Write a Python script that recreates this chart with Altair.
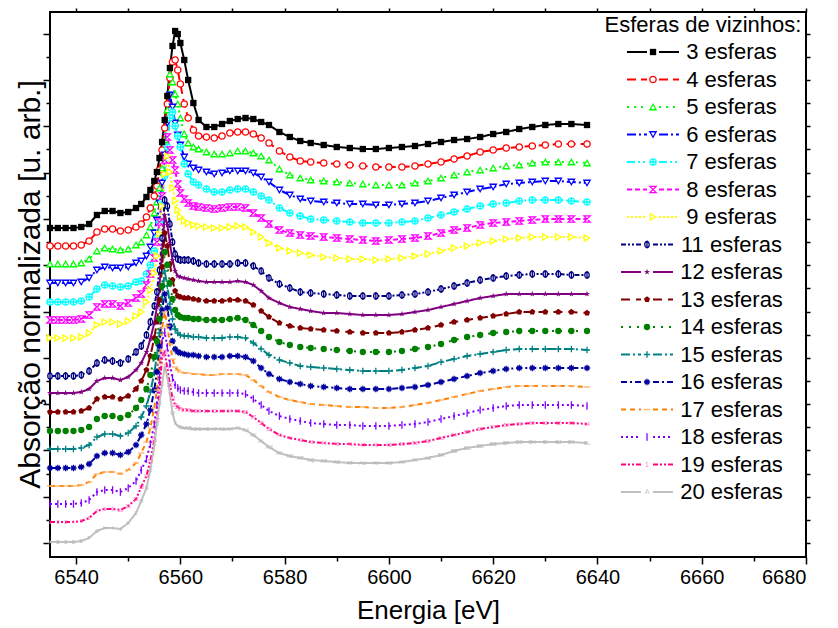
import altair as alt
import pandas as pd

# ---------------- data ----------------
energy = [6535, 6536.5, 6538, 6539.5, 6541, 6542.5, 6544, 6545.5, 6547, 6548.5, 6550, 6551.5,
          6552.5, 6553.5, 6554.25, 6555, 6555.5, 6556, 6556.5, 6557, 6557.5, 6558, 6558.5, 6559,
          6559.5, 6560, 6560.75, 6561.5, 6562.5, 6563.5,
          6565, 6566.5, 6568, 6569.5, 6571, 6572.5, 6574, 6575.5, 6577, 6579, 6581, 6583, 6585,
          6587.5, 6590, 6592.5, 6595, 6597.5, 6600, 6602.5, 6605, 6607.5, 6610, 6612.5, 6615,
          6617.5, 6620, 6622.5, 6625, 6627.5, 6630, 6632.5, 6635, 6638]

mu_03 = [0, 0, 0, 0, 0.01, 0.04, 0.13, 0.17, 0.17, 0.15, 0.16, 0.20,
         0.24, 0.31, 0.38, 0.47, 0.56, 0.70, 0.86, 1.08, 1.32, 1.60, 1.82, 1.97, 1.94, 1.85, 1.68, 1.48, 1.25, 1.08,
         1.01, 1.01, 1.04, 1.07, 1.09, 1.10, 1.09, 1.06, 1.03, 0.96, 0.91, 0.87, 0.85, 0.83, 0.81, 0.80, 0.79,
         0.79, 0.80, 0.81, 0.82, 0.84, 0.86, 0.88, 0.89, 0.91, 0.94, 0.96, 0.99, 1.01, 1.03, 1.04, 1.04, 1.03]
mu_04 = [0, 0, 0, 0, 0.01, 0.05, 0.14, 0.17, 0.17, 0.15, 0.16, 0.19,
         0.22, 0.29, 0.38, 0.50, 0.60, 0.76, 0.96, 1.18, 1.42, 1.68, 1.84, 1.86, 1.76, 1.62, 1.42, 1.28, 1.16, 1.10,
         1.09, 1.08, 1.10, 1.13, 1.14, 1.14, 1.12, 1.08, 1.03, 0.95, 0.89, 0.85, 0.84, 0.83, 0.82, 0.81, 0.80,
         0.79, 0.79, 0.79, 0.80, 0.82, 0.84, 0.87, 0.90, 0.94, 0.96, 0.98, 0.99, 1.00, 1.01, 1.02, 1.02, 1.02]
mu_05 = [0, 0, 0, 0, 0.01, 0.05, 0.13, 0.16, 0.15, 0.14, 0.15, 0.19,
         0.22, 0.29, 0.37, 0.51, 0.62, 0.76, 0.96, 1.24, 1.54, 1.90, 1.82, 1.70, 1.60, 1.46, 1.30, 1.21, 1.17, 1.15,
         1.12, 1.10, 1.10, 1.11, 1.13, 1.13, 1.11, 1.08, 1.04, 0.95, 0.89, 0.86, 0.84, 0.83, 0.82, 0.81, 0.80,
         0.79, 0.79, 0.79, 0.81, 0.83, 0.86, 0.89, 0.92, 0.94, 0.96, 0.98, 0.99, 1.01, 1.02, 1.02, 1.02, 1.01]
mu_06 = [0, 0, 0, 0, 0.01, 0.05, 0.13, 0.16, 0.15, 0.15, 0.16, 0.20,
         0.22, 0.27, 0.36, 0.50, 0.63, 0.80, 1.00, 1.28, 1.60, 1.88, 1.76, 1.60, 1.48, 1.38, 1.26, 1.19, 1.15, 1.13,
         1.11, 1.09, 1.10, 1.12, 1.12, 1.12, 1.10, 1.06, 1.01, 0.93, 0.88, 0.84, 0.82, 0.81, 0.80, 0.79, 0.79,
         0.78, 0.78, 0.79, 0.80, 0.82, 0.85, 0.88, 0.91, 0.94, 0.96, 0.99, 1.00, 1.01, 1.02, 1.02, 1.01, 1.00]
mu_07 = [0, 0, 0, 0, 0.01, 0.05, 0.13, 0.17, 0.16, 0.15, 0.16, 0.20,
         0.21, 0.28, 0.37, 0.51, 0.64, 0.80, 1.00, 1.26, 1.55, 1.84, 1.90, 1.76, 1.66, 1.55, 1.38, 1.28, 1.20, 1.17,
         1.13, 1.10, 1.10, 1.12, 1.13, 1.13, 1.10, 1.06, 1.02, 0.94, 0.89, 0.86, 0.83, 0.82, 0.81, 0.80, 0.79,
         0.79, 0.79, 0.80, 0.81, 0.84, 0.87, 0.90, 0.93, 0.96, 0.98, 0.99, 1.01, 1.02, 1.02, 1.02, 1.01, 1.00]
mu_08 = [0, 0, 0, 0, 0.01, 0.05, 0.13, 0.16, 0.16, 0.14, 0.17, 0.22,
         0.26, 0.35, 0.46, 0.62, 0.78, 0.98, 1.24, 1.60, 1.83, 1.70, 1.60, 1.50, 1.36, 1.27, 1.21, 1.17, 1.14, 1.13,
         1.12, 1.11, 1.12, 1.13, 1.13, 1.12, 1.07, 1.02, 0.96, 0.90, 0.87, 0.85, 0.84, 0.83, 0.82, 0.81, 0.80,
         0.79, 0.80, 0.81, 0.82, 0.84, 0.87, 0.90, 0.92, 0.95, 0.97, 0.98, 0.99, 1.00, 1.01, 1.01, 1.01, 1.01]
mu_09 = [0, 0, 0, 0, 0.01, 0.05, 0.13, 0.16, 0.16, 0.14, 0.17, 0.22,
         0.26, 0.36, 0.48, 0.65, 0.82, 1.04, 1.32, 1.64, 1.82, 1.66, 1.50, 1.37, 1.28, 1.21, 1.17, 1.15, 1.13, 1.12,
         1.11, 1.10, 1.10, 1.11, 1.12, 1.11, 1.06, 1.01, 0.95, 0.90, 0.87, 0.85, 0.83, 0.81, 0.80, 0.79, 0.79,
         0.78, 0.79, 0.80, 0.82, 0.84, 0.87, 0.90, 0.92, 0.95, 0.97, 0.99, 1.00, 1.01, 1.01, 1.01, 1.01, 1.00]
mu_11 = [0, 0, 0, 0, 0.01, 0.05, 0.13, 0.16, 0.15, 0.13, 0.17, 0.24,
         0.30, 0.41, 0.54, 0.70, 0.84, 1.06, 1.38, 1.76, 1.70, 1.52, 1.34, 1.22, 1.17, 1.16, 1.16, 1.16, 1.15, 1.13,
         1.12, 1.12, 1.12, 1.12, 1.13, 1.13, 1.10, 1.05, 0.98, 0.92, 0.88, 0.84, 0.83, 0.82, 0.81, 0.80, 0.80,
         0.80, 0.80, 0.81, 0.82, 0.84, 0.87, 0.90, 0.93, 0.96, 0.98, 1.00, 1.01, 1.02, 1.02, 1.02, 1.01, 1.01]
mu_12 = [0, 0, 0, 0, 0.01, 0.04, 0.12, 0.15, 0.15, 0.13, 0.16, 0.23,
         0.30, 0.41, 0.54, 0.70, 0.86, 1.08, 1.40, 1.78, 1.68, 1.50, 1.33, 1.22, 1.17, 1.16, 1.15, 1.14, 1.13, 1.12,
         1.11, 1.11, 1.11, 1.11, 1.12, 1.11, 1.08, 1.02, 0.95, 0.90, 0.86, 0.84, 0.82, 0.80, 0.80, 0.79, 0.78,
         0.78, 0.78, 0.79, 0.81, 0.83, 0.86, 0.89, 0.92, 0.95, 0.97, 0.99, 0.99, 0.99, 0.99, 0.99, 0.99, 0.99]
mu_13 = [0, 0, 0, 0, 0.01, 0.04, 0.13, 0.15, 0.15, 0.13, 0.16, 0.23,
         0.31, 0.42, 0.56, 0.74, 0.90, 1.12, 1.45, 1.79, 1.66, 1.48, 1.32, 1.21, 1.16, 1.15, 1.14, 1.14, 1.13, 1.12,
         1.11, 1.11, 1.11, 1.12, 1.12, 1.11, 1.07, 1.01, 0.95, 0.89, 0.86, 0.84, 0.83, 0.82, 0.81, 0.80, 0.79,
         0.79, 0.79, 0.80, 0.82, 0.84, 0.87, 0.90, 0.92, 0.94, 0.96, 0.98, 1.00, 1.00, 1.00, 1.00, 1.00, 0.99]
mu_14 = [0, 0, 0, 0, 0.01, 0.04, 0.12, 0.15, 0.15, 0.13, 0.16, 0.23,
         0.31, 0.42, 0.56, 0.74, 0.90, 1.12, 1.45, 1.79, 1.66, 1.48, 1.32, 1.21, 1.16, 1.14, 1.13, 1.13, 1.12, 1.12,
         1.11, 1.11, 1.11, 1.12, 1.13, 1.11, 1.06, 1.00, 0.94, 0.89, 0.86, 0.84, 0.83, 0.82, 0.81, 0.80, 0.79,
         0.79, 0.79, 0.80, 0.82, 0.84, 0.87, 0.91, 0.94, 0.96, 0.98, 0.99, 1.00, 1.00, 1.00, 1.00, 1.00, 1.00]
mu_15 = [0, 0, 0, 0, 0.01, 0.04, 0.12, 0.15, 0.15, 0.13, 0.16, 0.23,
         0.32, 0.43, 0.57, 0.76, 0.93, 1.16, 1.50, 1.78, 1.63, 1.45, 1.30, 1.20, 1.16, 1.14, 1.13, 1.13, 1.12, 1.12,
         1.11, 1.11, 1.11, 1.12, 1.12, 1.11, 1.06, 1.00, 0.94, 0.89, 0.86, 0.83, 0.82, 0.81, 0.80, 0.79, 0.78,
         0.78, 0.78, 0.79, 0.81, 0.83, 0.87, 0.90, 0.93, 0.95, 0.97, 0.99, 1.00, 1.00, 1.00, 1.00, 1.00, 0.99]
mu_16 = [0, 0, 0, 0, 0.01, 0.04, 0.12, 0.15, 0.15, 0.13, 0.16, 0.23,
         0.33, 0.44, 0.58, 0.78, 0.96, 1.22, 1.58, 1.74, 1.60, 1.42, 1.27, 1.19, 1.16, 1.15, 1.14, 1.13, 1.13, 1.12,
         1.11, 1.11, 1.11, 1.12, 1.12, 1.11, 1.07, 1.00, 0.94, 0.89, 0.86, 0.84, 0.82, 0.81, 0.80, 0.79, 0.79,
         0.79, 0.79, 0.80, 0.81, 0.83, 0.86, 0.89, 0.92, 0.95, 0.97, 0.99, 1.00, 1.00, 1.00, 1.00, 1.00, 1.00]
mu_17 = [0, 0, 0, 0, 0.01, 0.04, 0.12, 0.14, 0.14, 0.12, 0.16, 0.23,
         0.33, 0.44, 0.58, 0.78, 0.96, 1.22, 1.58, 1.74, 1.60, 1.42, 1.27, 1.19, 1.16, 1.14, 1.13, 1.13, 1.12, 1.12,
         1.11, 1.11, 1.12, 1.12, 1.12, 1.11, 1.06, 1.00, 0.94, 0.89, 0.86, 0.84, 0.82, 0.81, 0.80, 0.79, 0.79,
         0.78, 0.78, 0.79, 0.81, 0.83, 0.86, 0.89, 0.92, 0.95, 0.97, 0.99, 1.00, 1.00, 1.00, 1.00, 1.00, 0.99]
mu_18 = [0, 0, 0, 0, 0.01, 0.04, 0.12, 0.14, 0.14, 0.12, 0.16, 0.23,
         0.34, 0.45, 0.60, 0.80, 0.99, 1.26, 1.62, 1.72, 1.57, 1.40, 1.26, 1.19, 1.16, 1.14, 1.13, 1.13, 1.12, 1.11,
         1.11, 1.11, 1.11, 1.11, 1.11, 1.10, 1.05, 0.99, 0.93, 0.88, 0.85, 0.83, 0.81, 0.80, 0.79, 0.79, 0.78,
         0.78, 0.78, 0.79, 0.80, 0.82, 0.85, 0.88, 0.91, 0.94, 0.96, 0.98, 0.99, 0.99, 0.99, 0.99, 0.99, 0.98]
mu_19 = [0, 0, 0, 0, 0.01, 0.04, 0.11, 0.13, 0.13, 0.12, 0.16, 0.23,
         0.35, 0.46, 0.61, 0.82, 1.02, 1.30, 1.66, 1.70, 1.54, 1.37, 1.24, 1.17, 1.15, 1.13, 1.12, 1.12, 1.11, 1.11,
         1.11, 1.11, 1.11, 1.11, 1.11, 1.10, 1.05, 0.99, 0.93, 0.87, 0.84, 0.82, 0.80, 0.79, 0.78, 0.78, 0.77,
         0.77, 0.77, 0.78, 0.79, 0.81, 0.84, 0.87, 0.90, 0.93, 0.95, 0.97, 0.98, 0.99, 0.99, 0.99, 0.99, 0.98]
mu_20 = [0, 0, 0, 0, 0.01, 0.04, 0.11, 0.14, 0.14, 0.13, 0.19, 0.29,
         0.41, 0.54, 0.72, 0.96, 1.18, 1.38, 1.58, 1.76, 1.65, 1.48, 1.29, 1.19, 1.16, 1.15, 1.14, 1.14, 1.13, 1.13,
         1.13, 1.13, 1.13, 1.13, 1.14, 1.12, 1.07, 1.01, 0.95, 0.89, 0.86, 0.84, 0.82, 0.81, 0.80, 0.79, 0.79,
         0.79, 0.79, 0.80, 0.82, 0.84, 0.87, 0.91, 0.94, 0.96, 0.98, 0.99, 1.00, 1.00, 1.00, 1.00, 1.00, 0.99]

labels = ["3 esferas", "4 esferas", "5 esferas", "6 esferas", "7 esferas", "8 esferas",
          "9 esferas", "11 esferas", "12 esferas", "13 esferas", "14 esferas", "15 esferas",
          "16 esferas", "17 esferas", "18 esferas", "19 esferas", "20 esferas"]
offsets = [3.29, 3.11, 2.93, 2.74, 2.55, 2.37, 2.19, 1.81, 1.64, 1.45, 1.26, 1.08,
           0.89, 0.71, 0.53, 0.35, 0.15]
spectra = [mu_03, mu_04, mu_05, mu_06, mu_07, mu_08, mu_09, mu_11, mu_12, mu_13, mu_14,
           mu_15, mu_16, mu_17, mu_18, mu_19, mu_20]

# ---------------- styles ----------------
line_colors = ["#000000", "#FF0000", "#00FF00", "#0000FF", "#00FFFF", "#FF00FF", "#FFFF00",
               "#000080", "#800080", "#800000", "#008000", "#008080", "#0000A0", "#FF8000",
               "#8000FF", "#FF0080", "#C0C0C0"]
marker_colors = ["#000000", "#FF0000", "#00FF00", "#0000FF", "#00FFFF", "#FF00FF", "#FFFF00",
                 "#000080", "#800080", "#800000", "#008000", "#008080", "#0000A0", "#FFB469",
                 "#8000FF", "#FF7FBF", "#C8C8C8"]
dash_styles = [[1, 0], [9, 5], [2, 5], [9, 3, 2, 3], [8, 3, 2, 3, 2, 3], [5, 3], [2, 2],
               [5, 2, 2, 2, 2, 2], [1, 0], [9, 6], [2, 6], [9, 3, 2, 3], [6, 3, 2, 3], [5, 4],
               [2, 3], [5, 2, 2, 2, 2, 2], [1, 0]]
STAR = ("M0,-1L0.2245,-0.309L0.951,-0.309L0.363,0.118L0.588,0.809L0,0.382L-0.588,0.809"
        "L-0.363,0.118L-0.951,-0.309L-0.2245,-0.309Z")
marker_labels = labels[:15]
marker_shapes = [
    "square", "circle", "triangle-up", "triangle-down",
    "M-1,0A1,1 0 1,0 1,0A1,1 0 1,0 -1,0M0,-1L0,1M-1,0L1,0",
    "M-1,-1L1,1L-1,1L1,-1Z",
    "triangle-right",
    "M-0.7,0A0.7,1 0 1,0 0.7,0A0.7,1 0 1,0 -0.7,0M0,-1.3L0,1.3",
    STAR,
    "M0,-1L0.951,-0.309L0.588,0.809L-0.588,0.809L-0.951,-0.309Z",
    "circle",
    "M-1,0L1,0M0,-1L0,1",
    "M-1,0L1,0M0,-1L0,1M-0.7,-0.7L0.7,0.7M-0.7,0.7L0.7,-0.7",
    "M-1,0L1,0",
    "M0,-1.2L0,1.2",
]
filled_labels = ["3 esferas", "12 esferas", "13 esferas", "14 esferas"]
open_labels = [l for l in marker_labels if l not in filled_labels]
text_marker_labels = ["19 esferas", "20 esferas"]
legend_text_markers = ["", "", "", "", "", "", "", "", "", "", "", "", "", "", "", "1", "A"]

x_major = [6540, 6560, 6580, 6600, 6620, 6640, 6660, 6680]
x_minor = [6550, 6570, 6590, 6610, 6630, 6650, 6670]
y_major = [0.14, 0.603, 1.066, 1.529, 1.992, 2.455, 2.918, 3.381, 3.844, 4.307, 4.77, 5.233]
y_minor = [0.3715, 0.8345, 1.2975, 1.7605, 2.2235, 2.6865, 3.1495, 3.6125, 4.0755, 4.5385, 5.0015]

FONT = "Liberation Sans"
MSIZE = 40


def col_name(n):
    s = ""
    while n > 0:
        n, r = divmod(n - 1, 26)
        s = chr(65 + r) + s
    return s


rows = []
for lab, off, mu in zip(labels, offsets, spectra):
    assert len(mu) == len(energy), (lab, len(mu))
    for i, (e, m) in enumerate(zip(energy, mu)):
        rows.append({"label": lab, "energy": e, "y": round(m + off, 4),
                     "num": str(i + 1), "letter": col_name(i + 1)})
df = pd.DataFrame(rows)
leg_df = pd.DataFrame({"label": labels, "mk": legend_text_markers})

# ---------------- scales / axes ----------------
xs = alt.Scale(domain=[6535, 6680], nice=False, zero=False)
ys = alt.Scale(domain=[0, 5.45], nice=False, zero=False)
color_scale = alt.Scale(domain=labels, range=line_colors)
dash_scale = alt.Scale(domain=labels, range=dash_styles)
mcolor_scale = alt.Scale(domain=labels, range=marker_colors)
shape_scale = alt.Scale(domain=marker_labels, range=marker_shapes)

tick_common = dict(tickColor="black", tickWidth=1.5, domain=False, grid=False)
ax_x_major = alt.Axis(values=x_major, format="d", orient="bottom", labelFontSize=20, labelFont=FONT,
                      labelColor="black", labelPadding=3, tickSize=7,
                      title="Energia [eV]", titleFont=FONT, titleFontSize=26, titleFontWeight="normal",
                      titleColor="black", titleBaseline="alphabetic", titleY=61, **tick_common)
ax_y_major = alt.Axis(values=y_major, labels=False, orient="left", tickSize=7,
                      title="Absorção normalizada [u. arb.]", titleFont=FONT, titleFontSize=30,
                      titleFontWeight="normal", titleColor="black", titleAngle=270,
                      titleAlign="center", titleBaseline="alphabetic", titleX=-11, titleY=272,
                      **tick_common)
ax_x_minor = alt.Axis(values=x_minor, labels=False, orient="bottom", tickSize=4, title=None, **tick_common)
ax_y_minor = alt.Axis(values=y_minor, labels=False, orient="left", tickSize=4, title=None, **tick_common)
ax_x_top = alt.Axis(values=x_major + x_minor, labels=False, orient="top", tickSize=4, title=None, **tick_common)
ax_y_right = alt.Axis(values=y_major + y_minor, labels=False, orient="right", tickSize=4, title=None,
                      **tick_common)

# ---------------- main plot ----------------
base = alt.Chart(df)
lines = base.mark_line(strokeWidth=2).encode(
    x=alt.X("energy:Q", scale=xs, axis=ax_x_major),
    y=alt.Y("y:Q", scale=ys, axis=ax_y_major),
    color=alt.Color("label:N", scale=color_scale, legend=None),
    strokeDash=alt.StrokeDash("label:N", scale=dash_scale, legend=None),
    detail="label:N",
)
open_pts = base.transform_filter(
    alt.FieldOneOfPredicate(field="label", oneOf=open_labels)
).mark_point(filled=False, fill="white", size=MSIZE, strokeWidth=1.3, opacity=1).encode(
    x=alt.X("energy:Q", scale=xs, axis=ax_x_minor),
    y=alt.Y("y:Q", scale=ys, axis=ax_y_minor),
    shape=alt.Shape("label:N", scale=shape_scale, legend=None),
    stroke=alt.Stroke("label:N", scale=mcolor_scale, legend=None),
)
filled_pts = base.transform_filter(
    alt.FieldOneOfPredicate(field="label", oneOf=filled_labels)
).mark_point(filled=True, size=MSIZE, opacity=1).encode(
    x=alt.X("energy:Q", scale=xs, axis=ax_x_top),
    y=alt.Y("y:Q", scale=ys, axis=ax_y_right),
    shape=alt.Shape("label:N", scale=shape_scale, legend=None),
    fill=alt.Fill("label:N", scale=mcolor_scale, legend=None),
)
num_txt = base.transform_filter(alt.datum.label == "19 esferas").mark_text(
    fontSize=5, font=FONT, color="#FF66B3"
).encode(
    x=alt.X("energy:Q", scale=xs, axis=None),
    y=alt.Y("y:Q", scale=ys, axis=None),
    text="num:N",
)
let_txt = base.transform_filter(alt.datum.label == "20 esferas").mark_text(
    fontSize=5, font=FONT, color="#B4B4B4"
).encode(
    x=alt.X("energy:Q", scale=xs, axis=None),
    y=alt.Y("y:Q", scale=ys, axis=None),
    text="letter:N",
)
main = alt.layer(lines, open_pts, filled_pts, num_txt, let_txt).resolve_axis(
    x="independent", y="independent"
)

# ---------------- legend (built from the series list) ----------------
leg_base = alt.Chart(leg_df).transform_calculate(
    shift="length(datum.label) > 9 ? -6 : 0"
).transform_calculate(
    xa="577 + datum.shift", xb="597 + datum.shift", xm="603 + datum.shift",
    xc="609 + datum.shift", xd="629 + datum.shift",
)
leg_y = alt.Y("label:N", scale=alt.Scale(type="point", domain=labels, range=[40, 480], padding=0),
              axis=None)
leg_left = leg_base.mark_rule(strokeWidth=2).encode(
    x=alt.X("xa:Q", scale=None, axis=None), x2="xb:Q", y=leg_y,
    color=alt.Color("label:N", scale=color_scale, legend=None),
    strokeDash=alt.StrokeDash("label:N", scale=dash_scale, legend=None),
)
leg_right = leg_base.mark_rule(strokeWidth=2).encode(
    x=alt.X("xc:Q", scale=None, axis=None), x2="xd:Q", y=leg_y,
    color=alt.Color("label:N", scale=color_scale, legend=None),
    strokeDash=alt.StrokeDash("label:N", scale=dash_scale, legend=None),
)
leg_open = leg_base.transform_filter(
    alt.FieldOneOfPredicate(field="label", oneOf=open_labels)
).mark_point(filled=False, fill="white", size=MSIZE, strokeWidth=1.3, opacity=1).encode(
    x=alt.X("xm:Q", scale=None, axis=None), y=leg_y,
    shape=alt.Shape("label:N", scale=shape_scale, legend=None),
    stroke=alt.Stroke("label:N", scale=mcolor_scale, legend=None),
)
leg_filled = leg_base.transform_filter(
    alt.FieldOneOfPredicate(field="label", oneOf=filled_labels)
).mark_point(filled=True, size=MSIZE, opacity=1).encode(
    x=alt.X("xm:Q", scale=None, axis=None), y=leg_y,
    shape=alt.Shape("label:N", scale=shape_scale, legend=None),
    fill=alt.Fill("label:N", scale=mcolor_scale, legend=None),
)
leg_mk = leg_base.transform_filter(
    alt.FieldOneOfPredicate(field="label", oneOf=text_marker_labels)
).mark_text(fontSize=7, font=FONT, baseline="middle").encode(
    x=alt.X("xm:Q", scale=None, axis=None), y=leg_y, text="mk:N",
    fill=alt.Fill("label:N", scale=mcolor_scale, legend=None),
)
leg_labels = leg_base.mark_text(align="center", baseline="middle", fontSize=22, font=FONT,
                                color="black").encode(
    x=alt.value(681.5), y=leg_y, text="label:N",
)
leg_title = alt.Chart(pd.DataFrame({"t": ["Esferas de vizinhos:"]})).mark_text(
    align="center", baseline="middle", fontSize=22, font=FONT, color="black"
).encode(x=alt.value(653), y=alt.value(13), text="t:N")

legend = alt.layer(leg_left, leg_right, leg_open, leg_filled, leg_mk, leg_labels, leg_title)

chart = alt.layer(main, legend).resolve_scale(
    x="independent", y="independent"
).properties(
    width=756, height=545,
    autosize=alt.AutoSizeParams(type="none"),
    padding={"left": 50, "top": 12, "right": 32, "bottom": 71},
).configure(font=FONT).configure_view(stroke="black", strokeWidth=2)

chart.save("out.html", embed_options={"renderer": "svg", "actions": False})
